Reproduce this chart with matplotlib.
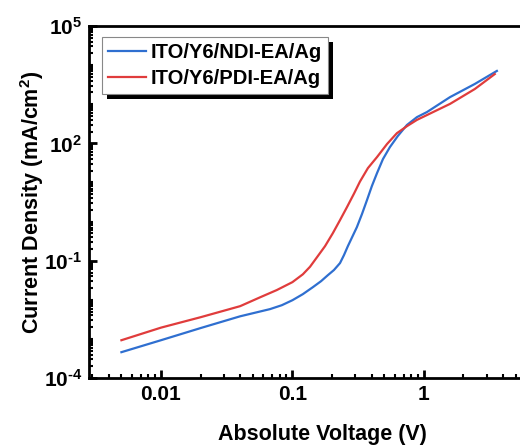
import numpy as np
import matplotlib
matplotlib.use('Agg')
import matplotlib.pyplot as plt
from matplotlib.ticker import LogLocator, NullFormatter, FixedLocator
from matplotlib.patches import Rectangle
from matplotlib.transforms import IdentityTransform

plt.rcParams['font.family'] = ['Liberation Sans', 'DejaVu Sans']
plt.rcParams['font.weight'] = 'bold'
plt.rcParams['mathtext.fontset'] = 'custom'
plt.rcParams['mathtext.bf'] = 'Liberation Sans:bold'
plt.rcParams['mathtext.rm'] = 'Liberation Sans:bold'

# NDI device
v_ndi = [0.005, 0.01, 0.02, 0.04, 0.0675, 0.083, 0.1, 0.12, 0.143, 0.165, 0.186, 0.207, 0.23,
         0.2465, 0.264, 0.309, 0.338, 0.369, 0.402, 0.44, 0.488, 0.551, 0.634, 0.743, 0.885,
         1.054, 1.58, 2.44, 3.59]
j_ndi = [4.6e-4, 9.3e-4, 1.9e-3, 3.8e-3, 5.8e-3, 7.3e-3, 9.8e-3, 0.014, 0.0211, 0.030, 0.0428, 0.058, 0.087,
         0.139, 0.236, 0.72, 1.56, 3.55, 8.1, 17.4, 39.6, 80, 155, 295, 468,
         630, 1520, 3300, 7100]

# PDI device
v_pdi = [0.005, 0.01, 0.02, 0.04, 0.057, 0.076, 0.1, 0.12, 0.136, 0.154, 0.177, 0.203, 0.23,
         0.26, 0.294, 0.326, 0.375, 0.44, 0.524, 0.623, 0.743, 0.885, 1.58, 2.44, 3.46]
j_pdi = [9.3e-4, 1.95e-3, 3.6e-3, 6.9e-3, 0.0117, 0.0178, 0.0284, 0.045, 0.070, 0.124, 0.236, 0.508, 1.09,
         2.35, 5.2, 10.5, 23.3, 44.7, 96, 182, 275, 398, 1020, 2450, 5900]

labels = ['ITO/Y6/NDI-EA/Ag', 'ITO/Y6/PDI-EA/Ag']
ytick_vals = [1e-4, 1e-1, 1e2, 1e5]
ytick_text = [r'$\mathbf{10^{\text{-}4}}$', r'$\mathbf{10^{\text{-}1}}$', r'$\mathbf{10^{2}}$', r'$\mathbf{10^{5}}$']
xtick_vals = [0.01, 0.1, 1]
xtick_text = ['0.01', '0.1', '1']

fig = plt.figure(figsize=(5.2, 4.48), dpi=100)
ax = fig.add_axes([0.171, 0.156, 0.897, 0.786])

ax.plot(v_ndi, j_ndi, color='#2f6fd0', lw=1.6, label=labels[0])
ax.plot(v_pdi, j_pdi, color='#e03c3c', lw=1.6, label=labels[1])

ax.set_xscale('log')
ax.set_yscale('log')
ax.set_xlim(0.00283, 10)
ax.set_ylim(1e-4, 1e5)

ax.set_xticks(xtick_vals)
ax.set_xticklabels(xtick_text)
ax.xaxis.set_minor_locator(LogLocator(base=10, subs=np.arange(2, 10)))
ax.xaxis.set_minor_formatter(NullFormatter())

ax.yaxis.set_major_locator(FixedLocator(ytick_vals))
ax.set_yticklabels(ytick_text)
ax.yaxis.set_minor_locator(LogLocator(base=10, subs=np.arange(1, 10), numticks=30))
ax.yaxis.set_minor_formatter(NullFormatter())

ax.tick_params(axis='both', which='major', direction='in', length=6, width=2,
               labelsize=15, pad=5)
ax.tick_params(axis='both', which='minor', direction='in', length=3, width=1.5)

for s in ['left', 'bottom', 'top']:
    ax.spines[s].set_linewidth(2)
ax.spines['right'].set_visible(False)

ax.set_xlabel('Absolute Voltage (V)', fontsize=15.5, fontweight='bold', labelpad=14)
ax.set_ylabel('Current Density (mA/cm$^\\mathbf{2}$)', fontsize=15.5, fontweight='bold', labelpad=-2)

leg = ax.legend(loc='upper left', bbox_to_anchor=(0.028, 0.97), fontsize=14.5,
                frameon=True, fancybox=False, edgecolor='#888888', framealpha=1,
                borderpad=0.3, labelspacing=0.35, handlelength=1.9, handletextpad=0.2,
                borderaxespad=0)
leg.get_frame().set_linewidth(0.8)

fig.canvas.draw()
bb = leg.get_window_extent()
shadow = Rectangle((bb.x0 + 5, bb.y0 - 5), bb.width, bb.height, transform=IdentityTransform(),
                   facecolor='black', edgecolor='none', zorder=leg.get_zorder() - 0.1, clip_on=False)
ax.add_artist(shadow)

fig.savefig('out.png', dpi=100)
